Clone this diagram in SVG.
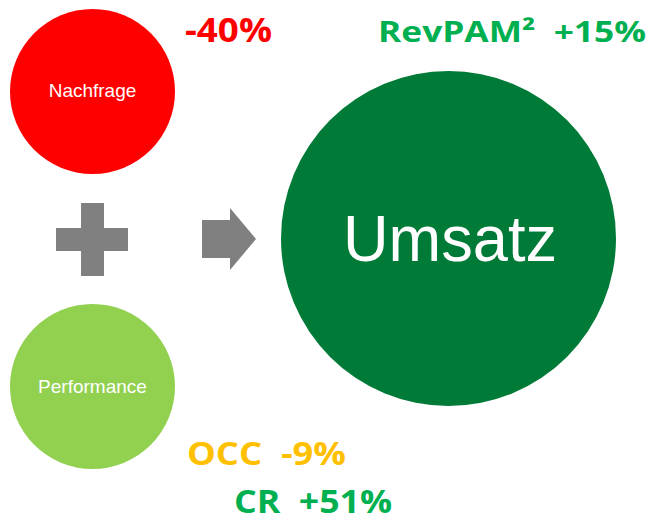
<svg xmlns="http://www.w3.org/2000/svg" width="654" height="527" viewBox="0 0 654 527">
<style>
.lbl{font-family:"Liberation Sans",Arial,sans-serif;fill:#fff;text-anchor:middle}
.kpi{font-family:"Open Sans","Liberation Sans",sans-serif;font-weight:bold}
.sym{fill:#808080}
</style>
<rect width="654" height="527" fill="#fff"/>
<g id="nachfrage">
<circle cx="92.5" cy="91.5" r="82.5" fill="#FF0000"/>
<text class="lbl" x="92.5" y="97" font-size="19">Nachfrage</text>
</g>
<g id="performance">
<circle cx="92.5" cy="386.5" r="82.5" fill="#92D050"/>
<text class="lbl" x="92.5" y="392.5" font-size="19">Performance</text>
</g>
<g id="umsatz">
<circle cx="448.5" cy="238.5" r="167.5" fill="#007A37"/>
<text class="lbl" x="450" y="260.5" font-size="65" textLength="214" lengthAdjust="spacingAndGlyphs">Umsatz</text>
</g>
<g id="connectors">
<path class="sym" d="M81,203H104V228H128V251H104V276H81V251H56V228H81Z"/>
<path class="sym" d="M202,220H230V208L256,239L230,270V258H202Z"/>
</g>
<g id="kpis">
<text class="kpi" x="185" y="42" font-size="34" fill="#FF0000" textLength="87" lengthAdjust="spacingAndGlyphs">-40%</text>
<text class="kpi" x="378" y="42" font-size="29" fill="#00B050" xml:space="preserve" textLength="268" lengthAdjust="spacingAndGlyphs">RevPAM²  +15%</text>
<text class="kpi" x="187" y="465" font-size="32" fill="#FFC000" xml:space="preserve" textLength="159" lengthAdjust="spacingAndGlyphs">OCC  -9%</text>
<text class="kpi" x="234" y="513" font-size="32" fill="#00B050" xml:space="preserve" textLength="158" lengthAdjust="spacingAndGlyphs">CR  +51%</text>
</g>
</svg>
